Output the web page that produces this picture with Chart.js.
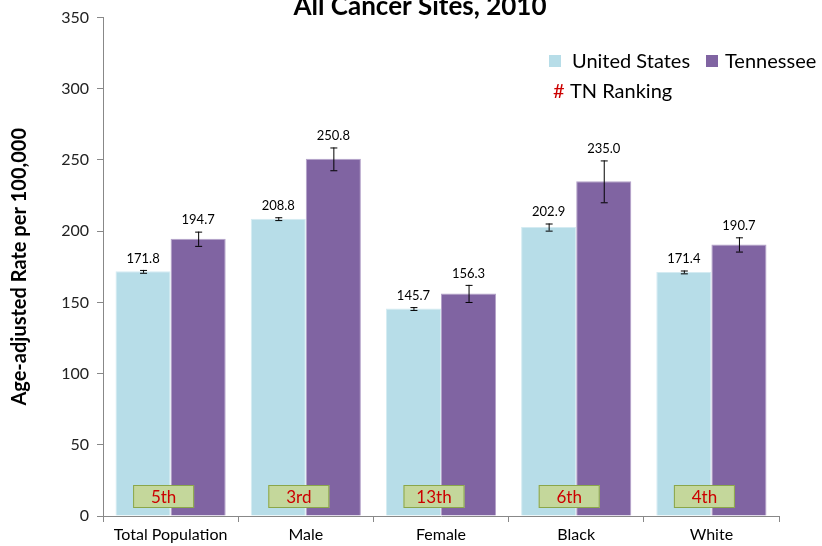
<!DOCTYPE html>
<html>
<head>
<meta charset="utf-8">
<script src="https://cdn.jsdelivr.net/npm/chart.js@4.4.1/dist/chart.umd.min.js"></script>
<style>
  html, body { margin: 0; padding: 0; background: #fff; }
  #wrap { width: 822px; height: 546px; }
</style>
</head>
<body>
<div id="wrap"><canvas id="chart" width="822" height="546"></canvas></div>
<script>
// Data
const categories = ["Total Population", "Male", "Female", "Black", "White"];
const usRates    = [171.8, 208.8, 145.7, 202.9, 171.4];
const tnRates    = [194.7, 250.8, 156.3, 235.0, 190.7];
const usErr      = [1.0, 1.0, 1.0, 2.5, 1.0];
const tnErr      = [5.0, 8.0, 6.0, 14.7, 5.0];
const tnRanking  = ["5th", "3rd", "13th", "6th", "4th"];
const yTicks     = [0, 50, 100, 150, 200, 250, 300, 350];

const FONT = "Lato, 'Open Sans', sans-serif";
const errors = [usErr, tnErr];

// Title, error bars, value labels, ranking boxes, legend
const overlay = {
  id: "overlay",
  afterDatasetsDraw(c) {
    const ctx = c.ctx;
    const y = c.scales.y;
    ctx.save();

    // error bars + labels
    c.data.datasets.forEach(function(ds, di) {
      const meta = c.getDatasetMeta(di);
      meta.data.forEach(function(bar, i) {
        const v = ds.data[i];
        const e = errors[di][i];
        const yt = y.getPixelForValue(v + e);
        const yb = y.getPixelForValue(v - e);
        ctx.strokeStyle = "#000";
        ctx.lineWidth = 1;
        ctx.beginPath();
        ctx.moveTo(bar.x + 0.5, yt); ctx.lineTo(bar.x + 0.5, yb);
        ctx.moveTo(bar.x - 3, yt + 0.5); ctx.lineTo(bar.x + 4, yt + 0.5);
        ctx.moveTo(bar.x - 3, yb + 0.5); ctx.lineTo(bar.x + 4, yb + 0.5);
        ctx.stroke();

        ctx.fillStyle = "#000";
        ctx.font = "13px " + FONT;
        ctx.textAlign = "center";
        ctx.textBaseline = "bottom";
        ctx.fillText(v.toFixed(1), bar.x, yt - 5);
      });
    });

    // ranking boxes
    const x = c.scales.x;
    tnRanking.forEach(function(r, i) {
      const cx = x.getPixelForValue(i) - 7;
      const w = 61, h = 23, top = 485;
      ctx.fillStyle = "#c4d79b";
      ctx.fillRect(cx - w / 2, top, w, h);
      ctx.strokeStyle = "#8aa64a";
      ctx.lineWidth = 1;
      ctx.strokeRect(cx - w / 2 + 0.5, top + 0.5, w - 1, h - 1);
      ctx.fillStyle = "#cc0000";
      ctx.font = "17px " + FONT;
      ctx.textAlign = "center";
      ctx.textBaseline = "middle";
      ctx.fillText(r, cx, top + h / 2 + 1);
    });

    // title (cut off at top like the original)
    ctx.fillStyle = "#000";
    ctx.font = "bold 26px " + FONT;
    ctx.textAlign = "center";
    ctx.textBaseline = "alphabetic";
    ctx.fillText("All Cancer Sites, 2010", 420, 15);

    // legend
    ctx.textAlign = "left";
    ctx.textBaseline = "middle";
    ctx.font = "20px " + FONT;
    ctx.fillStyle = "#b7dde8";
    ctx.fillRect(549, 55, 12, 12);
    ctx.fillStyle = "#000";
    ctx.fillText("United States", 572, 62);
    ctx.fillStyle = "#8064a2";
    ctx.fillRect(706, 55, 12, 12);
    ctx.fillStyle = "#000";
    ctx.fillText("Tennessee", 725, 62);
    ctx.fillStyle = "#cc0000";
    ctx.fillText("#", 553, 92);
    ctx.fillStyle = "#000";
    ctx.fillText("TN Ranking", 570, 92);

    ctx.restore();
  }
};

new Chart(document.getElementById("chart").getContext("2d"), {
  type: "bar",
  data: {
    labels: categories,
    datasets: [
      {
        label: "United States",
        data: usRates,
        backgroundColor: "#b7dde8",
        borderColor: "#d4ebf2",
        borderWidth: 1,
        categoryPercentage: 0.815,
        barPercentage: 1.0
      },
      {
        label: "Tennessee",
        data: tnRates,
        backgroundColor: "#8064a2",
        borderColor: "#b4a2c9",
        borderWidth: 1,
        categoryPercentage: 0.815,
        barPercentage: 1.0
      }
    ]
  },
  options: {
    responsive: false,
    animation: false,
    layout: { padding: { left: 0, top: 17, right: 43, bottom: 0 } },
    plugins: {
      legend: { display: false },
      tooltip: { enabled: false },
      title: { display: false }
    },
    scales: {
      x: {
        grid: { display: true, drawOnChartArea: false, offset: true, tickLength: 6, color: "#888" },
        border: { color: "#888" },
        ticks: { color: "#000", font: { family: FONT, size: 16 }, padding: 3 },
        afterFit: function(s) { s.height = 30; }
      },
      y: {
        min: 0,
        max: 350,
        afterBuildTicks: function(s) { s.ticks = yTicks.map(function(v) { return { value: v }; }); },
        grid: { display: true, drawOnChartArea: false, tickLength: 6, color: "#888" },
        border: { color: "#888" },
        ticks: { color: "#222", font: { family: FONT, size: 16 }, padding: 8 },
        title: {
          display: true,
          text: "Age-adjusted Rate per 100,000",
          color: "#000",
          font: { family: FONT, size: 20, weight: "bold" },
          padding: { top: 8, bottom: 8 }
        },
        afterFit: function(s) { s.width = 103; }
      }
    }
  },
  plugins: [overlay]
});
</script>
</body>
</html>
